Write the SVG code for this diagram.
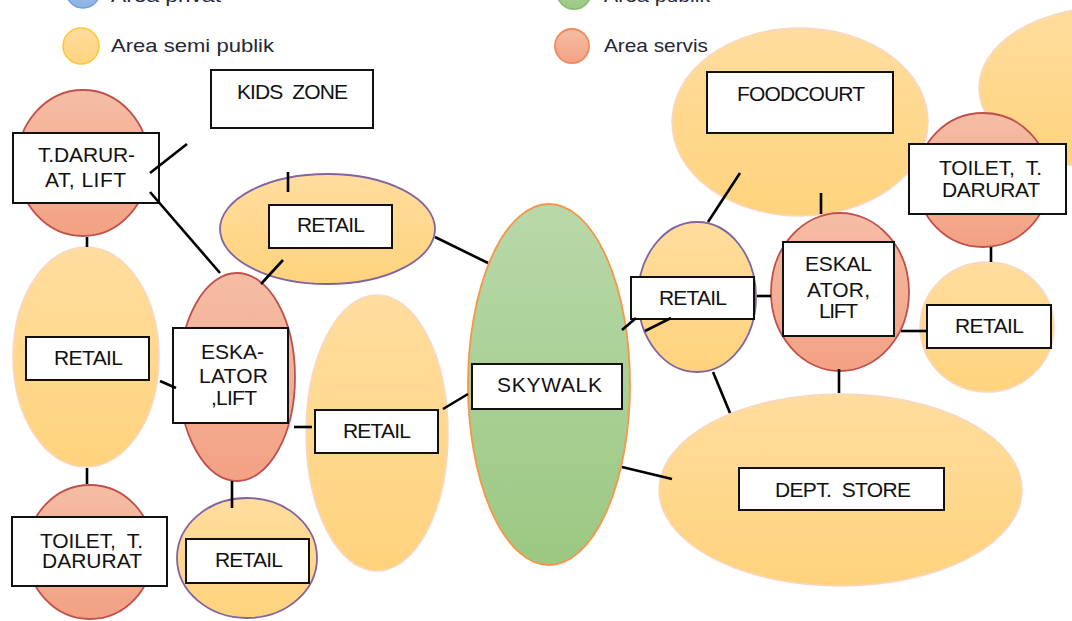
<svg xmlns="http://www.w3.org/2000/svg" width="1072" height="621" viewBox="0 0 1072 621">
<defs>
<linearGradient id="gY" x1="0" y1="0" x2="0" y2="1"><stop offset="0" stop-color="#FFDD9E"/><stop offset="1" stop-color="#FFD37D"/></linearGradient>
<linearGradient id="gS" x1="0" y1="0" x2="0" y2="1"><stop offset="0" stop-color="#F5BDA5"/><stop offset="1" stop-color="#F3A183"/></linearGradient>
<linearGradient id="gG" x1="0" y1="0" x2="0" y2="1"><stop offset="0" stop-color="#B8D8A9"/><stop offset="1" stop-color="#9BC882"/></linearGradient>
<linearGradient id="gB" x1="0" y1="0" x2="0" y2="1"><stop offset="0" stop-color="#A9C6EA"/><stop offset="1" stop-color="#8DB3E2"/></linearGradient>
<style>
.y{fill:url(#gY);stroke:#F7D6C6;stroke-width:1.5}
.yp{fill:url(#gY);stroke:#8064A2;stroke-width:1.8}
.s{fill:url(#gS);stroke:#C0504D;stroke-width:1.8}
.g{fill:url(#gG);stroke:#F79646;stroke-width:1.8}
.b{fill:url(#gB);stroke:#6F9FD8;stroke-width:1.5}
.box{fill:#fff;stroke:#111;stroke-width:2}
.t{font-family:"Liberation Sans",Arial,sans-serif;font-size:21px;fill:#111;text-anchor:middle}
.lg{font-family:"Liberation Sans",Arial,sans-serif;font-size:18.5px;fill:#262636}
.c line{stroke:#000;stroke-width:2.6;stroke-linecap:butt}
</style>
</defs>
<rect width="1072" height="621" fill="#fff"/>

<g id="legend">
<circle class="b" cx="83" cy="-9" r="17"/>
<text class="lg" x="111" y="2" textLength="110" lengthAdjust="spacingAndGlyphs">Area privat</text>
<circle class="g" cx="574" cy="-8" r="17" style="stroke:#8CBF73"/>
<text class="lg" x="604" y="2" textLength="106" lengthAdjust="spacingAndGlyphs">Area publik</text>
<circle class="y" cx="81" cy="46" r="18" style="stroke:#FFC63A"/>
<text class="lg" x="111" y="52" textLength="163" lengthAdjust="spacingAndGlyphs">Area semi publik</text>
<circle class="s" cx="572" cy="46" r="17" style="stroke:#F08A5B"/>
<text class="lg" x="604" y="52" textLength="104" lengthAdjust="spacingAndGlyphs">Area servis</text>
</g>

<g id="foodcourt">
<ellipse class="y" cx="800" cy="122" rx="128" ry="94"/>
<rect class="box" x="707" y="72" width="186" height="61"/>
<text class="t" x="801" y="101" textLength="128">FOODCOURT</text>
</g>

<g id="topright-area">
<ellipse class="y" cx="1110" cy="88" rx="131" ry="81"/>
</g>

<g id="tdarurat-lift">
<ellipse class="s" cx="83" cy="163" rx="66" ry="73"/>
<rect class="box" x="13" y="133" width="146" height="70"/>
<text class="t" x="86.5" y="162" textLength="97">T.DARUR-</text>
<text class="t" x="85.5" y="187" textLength="81">AT, LIFT</text>
</g>

<g id="kids-zone">
<rect class="box" x="211" y="70" width="162" height="58"/>
<text class="t" x="292.5" y="99" textLength="111" xml:space="preserve">KIDS  ZONE</text>
</g>

<g id="retail-top">
<ellipse class="yp" cx="327.5" cy="229" rx="107.5" ry="55"/>
<rect class="box" x="269" y="205" width="123" height="43"/>
<text class="t" x="331" y="232" textLength="68">RETAIL</text>
</g>

<g id="retail-left">
<ellipse class="y" cx="86" cy="357" rx="73" ry="110"/>
<rect class="box" x="26" y="337" width="123" height="43"/>
<text class="t" x="88.5" y="365" textLength="69">RETAIL</text>
</g>

<g id="toilet-left">
<ellipse class="s" cx="90" cy="552" rx="63" ry="67"/>
<rect class="box" x="12" y="517" width="155" height="69"/>
<text class="t" x="91.5" y="548" textLength="103" xml:space="preserve">TOILET,  T.</text>
<text class="t" x="92" y="568" textLength="100">DARURAT</text>
</g>

<g id="eskalator-left">
<ellipse class="s" cx="237" cy="377" rx="58" ry="104"/>
<rect class="box" x="173" y="328" width="115" height="95"/>
<text class="t" x="232.5" y="359" textLength="63">ESKA-</text>
<text class="t" x="233.5" y="383" textLength="69">LATOR</text>
<text class="t" x="234" y="405" textLength="46">,LIFT</text>
</g>

<g id="retail-bottom">
<ellipse class="yp" cx="247" cy="558" rx="70" ry="60"/>
<rect class="box" x="186" y="539" width="123" height="44"/>
<text class="t" x="249" y="567" textLength="68">RETAIL</text>
</g>

<g id="retail-mid">
<ellipse class="y" cx="377" cy="433" rx="71" ry="138"/>
<rect class="box" x="315" y="410" width="123" height="43"/>
<text class="t" x="377" y="438" textLength="68">RETAIL</text>
</g>

<g id="skywalk">
<ellipse class="g" cx="549" cy="384.5" rx="81" ry="180.5"/>
<rect class="box" x="472" y="364" width="150" height="45"/>
<text class="t" x="549.5" y="392" textLength="105">SKYWALK</text>
</g>

<g id="toilet-right">
<ellipse class="s" cx="983" cy="180" rx="66" ry="67"/>
<rect class="box" x="909" y="144" width="157" height="70"/>
<text class="t" x="990.5" y="175" textLength="103" xml:space="preserve">TOILET,  T.</text>
<text class="t" x="991" y="197" textLength="98">DARURAT</text>
</g>

<g id="retail-right-small">
<ellipse class="yp" cx="697" cy="297" rx="59" ry="75"/>
<rect class="box" x="631" y="277" width="123" height="42"/>
<text class="t" x="693" y="305" textLength="68">RETAIL</text>
</g>

<g id="eskalator-right">
<ellipse class="s" cx="840" cy="292" rx="69" ry="79"/>
<rect class="box" x="783" y="242" width="111" height="94"/>
<text class="t" x="838.5" y="271" textLength="67">ESKAL</text>
<text class="t" x="838.5" y="297" textLength="63">ATOR,</text>
<text class="t" x="838.5" y="318" textLength="39">LIFT</text>
</g>

<g id="retail-right">
<ellipse class="y" cx="987" cy="327" rx="67" ry="65"/>
<rect class="box" x="927" y="305" width="124" height="43"/>
<text class="t" x="989.5" y="333" textLength="69">RETAIL</text>
</g>

<g id="dept-store">
<ellipse class="y" cx="840.5" cy="490" rx="181.5" ry="96"/>
<rect class="box" x="739" y="468" width="205" height="42"/>
<text class="t" x="843" y="497" textLength="136" xml:space="preserve">DEPT.  STORE</text>
</g>

<g id="connectors" class="c">
<line x1="150" y1="173" x2="187" y2="144"/>
<line x1="150" y1="192" x2="220" y2="273"/>
<line x1="87" y1="237" x2="87" y2="247"/>
<line x1="87" y1="468" x2="87" y2="484"/>
<line x1="160" y1="381" x2="176" y2="388"/>
<line x1="232" y1="481" x2="232" y2="508"/>
<line x1="294" y1="427" x2="312" y2="427"/>
<line x1="261" y1="284" x2="283" y2="260"/>
<line x1="288" y1="172" x2="288" y2="192"/>
<line x1="435" y1="237" x2="488" y2="263"/>
<line x1="443" y1="409" x2="468" y2="394"/>
<line x1="622" y1="330" x2="636" y2="318"/>
<line x1="645" y1="331" x2="671" y2="318"/>
<line x1="622" y1="467" x2="672" y2="479"/>
<line x1="713" y1="372" x2="730" y2="413"/>
<line x1="708" y1="222" x2="740" y2="173"/>
<line x1="821" y1="193" x2="821" y2="214"/>
<line x1="757" y1="296" x2="771" y2="296"/>
<line x1="901" y1="331" x2="927" y2="331"/>
<line x1="991" y1="247" x2="991" y2="262"/>
<line x1="839" y1="369" x2="839" y2="393"/>
</g>
</svg>
